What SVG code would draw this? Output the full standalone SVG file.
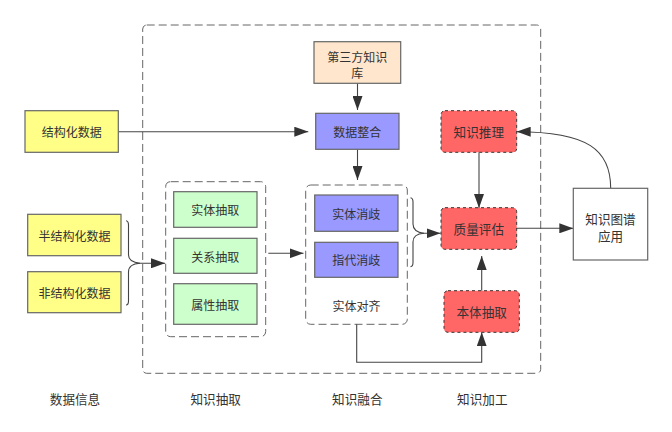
<svg xmlns="http://www.w3.org/2000/svg" width="672" height="432" viewBox="0 0 672 432">
<defs>
<style>
text{font-family:"Noto Sans CJK SC","Liberation Sans",sans-serif;fill:#333;text-anchor:middle;dominant-baseline:central;font-size:12px}
.big{font-size:12.6px}
.box{stroke:#666;stroke-width:1.2}
.yellow{fill:#ffff88}
.green{fill:#ccffcc}
.blue{fill:#9999ff}
.peach{fill:#ffe6cc}
.red{fill:#ff6666;stroke:#333;stroke-width:1;stroke-dasharray:3 3}
.group{fill:none;stroke:#666;stroke-width:1;stroke-dasharray:8 4}
.edge{fill:none;stroke:#444;stroke-width:1.1}
</style>
<marker id="arr" viewBox="0 0 14 10" refX="14" refY="5" markerWidth="14" markerHeight="10" markerUnits="userSpaceOnUse" orient="auto">
<path d="M0,0 L14,5 L0,10 Z" fill="#333"/>
</marker>
</defs>
<rect width="672" height="432" fill="#fff"/>

<g id="outer"><rect class="group" x="142.7" y="25" width="398" height="348.3" rx="4"/></g>
<g id="extract-group"><rect class="group" x="165.7" y="181.7" width="100" height="155" rx="5"/></g>
<g id="align-group"><rect class="group" x="305.7" y="185" width="101.6" height="139.3" rx="5"/><text x="356.5" y="305">实体对齐</text></g>

<g id="connectors">
<path class="edge" d="M118.3,131.7 L308.3,131.7" marker-end="url(#arr)"/>
<path class="edge" d="M357.5,83.3 L357.5,110" marker-end="url(#arr)"/>
<path class="edge" d="M357.5,149.3 L357.5,180" marker-end="url(#arr)"/>
<path class="edge" d="M126,220.7 Q128.5,221 128.5,225 L128.5,255 Q128.5,262 140,263.3 L165,263.3" marker-end="url(#arr)"/>
<path class="edge" d="M126,305 Q128.5,305 128.5,301 L128.5,272 Q128.5,264 140,263.3"/>
<path class="edge" d="M268.3,253.3 L303.5,253.3" marker-end="url(#arr)"/>
<path class="edge" d="M410.5,197.7 Q413,198 413,202 L413,224 Q413,232 424,233.3 L440.5,233.3" marker-end="url(#arr)"/>
<path class="edge" d="M410.5,266.7 Q413,266.5 413,262.5 L413,242 Q413,234 424,233.3"/>
<path class="edge" d="M479,152.3 L479,208" marker-end="url(#arr)"/>
<path class="edge" d="M481.7,290.7 L481.7,256" marker-end="url(#arr)"/>
<path class="edge" d="M356.7,324.3 L356.7,362.3 L481.7,362.3 L481.7,332.3" marker-end="url(#arr)"/>
<path class="edge" d="M516.7,228.3 L573.3,228.3" marker-end="url(#arr)"/>
<path class="edge" d="M610.7,188.3 C610.7,150 588,131.7 516.7,131.7" marker-end="url(#arr)"/>
</g>

<g id="structured"><rect class="box yellow" x="25" y="110.7" width="93.3" height="41.6"/><text x="71.7" y="131.5">结构化数据</text></g>
<g id="semi-structured"><rect class="box yellow" x="27.7" y="214.3" width="93.3" height="41.4"/><text x="74.4" y="235.5">半结构化数据</text></g>
<g id="unstructured"><rect class="box yellow" x="27.7" y="271.7" width="93.3" height="41"/><text x="74.4" y="292.5">非结构化数据</text></g>

<g id="entity-extract"><rect class="box green" x="173.7" y="191.7" width="83.3" height="35.6"/><text x="215.3" y="209.8">实体抽取</text></g>
<g id="relation-extract"><rect class="box green" x="173.7" y="238.3" width="83.3" height="35"/><text x="215.3" y="256">关系抽取</text></g>
<g id="attr-extract"><rect class="box green" x="173.7" y="283.7" width="83.3" height="40.6"/><text x="215.3" y="304">属性抽取</text></g>

<g id="third-party"><rect class="box peach" x="314" y="41.7" width="86.7" height="41.6"/><text x="357.3" y="56.5">第三方知识</text><text x="357.3" y="72.5">库</text></g>
<g id="data-integration"><rect class="box blue" x="315.7" y="113.3" width="83.3" height="36"/><text x="357.3" y="131.3">数据整合</text></g>
<g id="entity-disambig"><rect class="box blue" x="314.7" y="195" width="83.3" height="36.3"/><text x="356.3" y="213">实体消歧</text></g>
<g id="coref-disambig"><rect class="box blue" x="314.7" y="242.3" width="83.3" height="35"/><text x="356.3" y="259.8">指代消歧</text></g>

<g id="reasoning"><rect class="red" x="441" y="110.7" width="75.7" height="41.6" rx="4"/><text class="big" x="478.8" y="131.5">知识推理</text></g>
<g id="quality"><rect class="red" x="441" y="207.7" width="75.7" height="41.6" rx="4"/><text class="big" x="478.8" y="228.5">质量评估</text></g>
<g id="ontology"><rect class="red" x="444" y="290.7" width="75.3" height="41.6" rx="4"/><text class="big" x="481.7" y="311.5">本体抽取</text></g>

<g id="kg-app"><rect x="573.3" y="188.3" width="74.4" height="71.7" fill="#fff" stroke="#666" stroke-width="1.2"/><text class="big" x="610.5" y="218">知识图谱</text><text class="big" x="610.5" y="235.5">应用</text></g>

<g id="labels">
<text class="big" x="75" y="398.3">数据信息</text>
<text class="big" x="215.7" y="398.3">知识抽取</text>
<text class="big" x="357.3" y="398.3">知识融合</text>
<text class="big" x="482.3" y="398.3">知识加工</text>
</g>
</svg>
